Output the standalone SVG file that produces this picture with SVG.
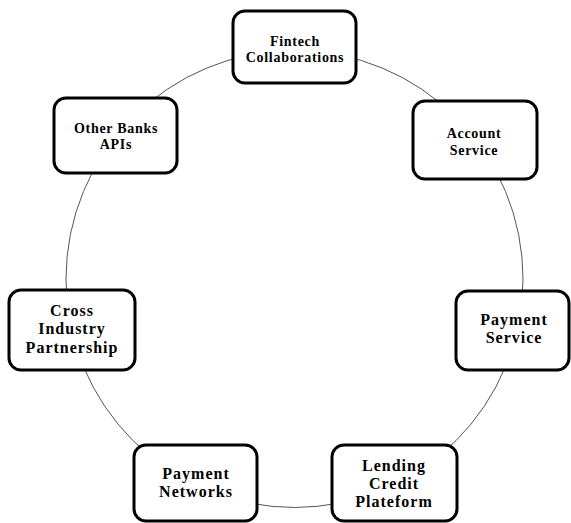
<svg xmlns="http://www.w3.org/2000/svg" width="571" height="523" viewBox="0 0 571 523">
<style>
.box{fill:#fff;stroke:#000;stroke-width:3}
.conn{fill:none;stroke:#555;stroke-width:1}
text{font-family:"Liberation Serif","Times New Roman",serif;font-weight:bold;text-anchor:middle;fill:#000}
.s{font-size:14px;letter-spacing:0.7px}
.l{font-size:16px;letter-spacing:1px}
</style>
<rect width="571" height="523" fill="#fff"/>
<g id="connectors">
<circle class="conn" cx="294.5" cy="279" r="228.5"/>
</g>
<g id="fintech">
<rect class="box" x="233" y="11" width="123" height="72" rx="12"/>
<text class="s" x="295" y="46">Fintech</text>
<text class="s" x="295" y="62">Collaborations</text>
</g>
<g id="other-banks">
<rect class="box" x="54" y="98" width="123" height="75" rx="12"/>
<text class="s" x="116" y="133">Other Banks</text>
<text class="s" x="116" y="149">APIs</text>
</g>
<g id="account">
<rect class="box" x="413" y="101" width="124" height="78" rx="12"/>
<text class="s" x="474" y="138">Account</text>
<text class="s" x="474" y="155">Service</text>
</g>
<g id="cross">
<rect class="box" x="9" y="290" width="126" height="80" rx="12"/>
<text class="l" x="72" y="316">Cross</text>
<text class="l" x="72" y="334">Industry</text>
<text class="l" x="72" y="353">Partnership</text>
</g>
<g id="payment-service">
<rect class="box" x="456" y="291" width="113" height="79" rx="12"/>
<text class="l" x="514" y="325">Payment</text>
<text class="l" x="514" y="343">Service</text>
</g>
<g id="payment-networks">
<rect class="box" x="134" y="445" width="123" height="76" rx="12"/>
<text class="l" x="196" y="479">Payment</text>
<text class="l" x="196" y="497">Networks</text>
</g>
<g id="lending">
<rect class="box" x="332" y="445" width="125" height="76" rx="12"/>
<text class="l" x="394" y="471">Lending</text>
<text class="l" x="394" y="489">Credit</text>
<text class="l" x="394" y="507">Plateform</text>
</g>
</svg>
